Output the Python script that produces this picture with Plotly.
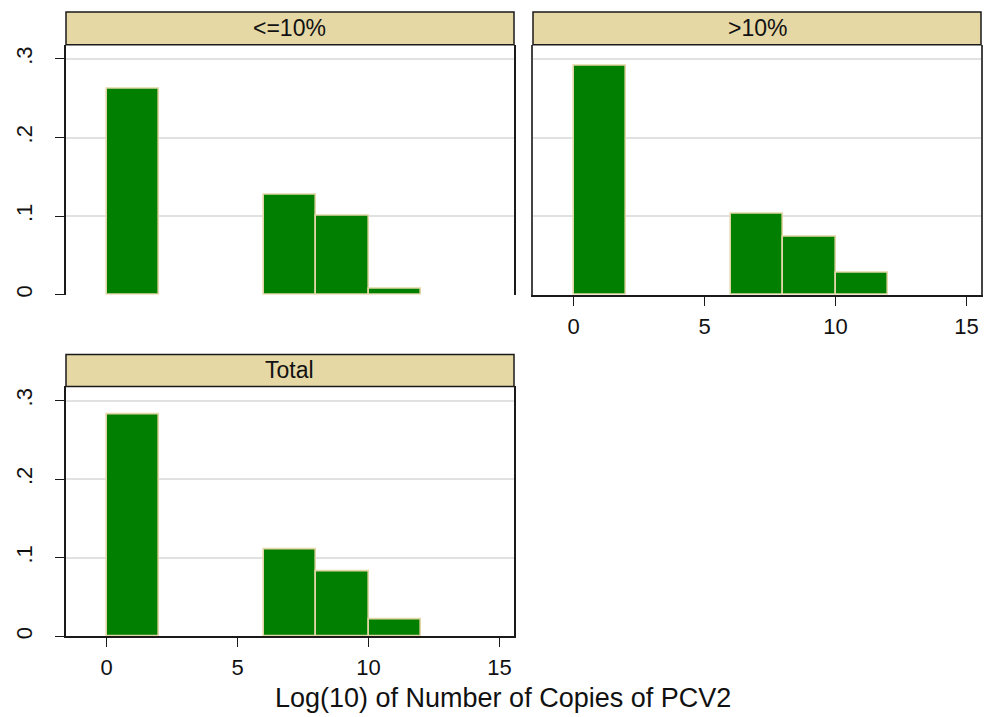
import plotly.graph_objects as go

# Histogram bins (log10 copies of PCV2), width 2
bin_left = [0, 6, 8, 10]
bin_width = 2

# Density per bin for each group
density_le10 = [0.262, 0.127, 0.101, 0.008]
density_gt10 = [0.291, 0.103, 0.074, 0.028]
density_total = [0.282, 0.111, 0.083, 0.021]

panel_titles = ["<=10%", ">10%", "Total"]
y_ticks = [0, 0.1, 0.2, 0.3]
y_tick_labels = ["0", ".1", ".2", ".3"]
x_ticks = [0, 5, 10, 15]
x_title = "Log(10) of Number of Copies of PCV2"

W, H = 984, 717
FONT = "Liberation Sans, Arial, sans-serif"
BAR_FILL = "#007F00"
BAR_EDGE = "#E2D6A6"
STRIP_FILL = "#E5D8A5"
GRID = "#E1E1E1"
FRAME = "#1a1a1a"

def px_x(v):
    return v / W

def px_y(v):
    return 1 - v / H

# panel geometry in pixels: (left, right, plot_top, plot_bottom, strip_top)
panels = [
    (66, 514, 45, 296, 12),
    (533, 981, 45, 296, 12),
    (66, 514, 388, 639, 356),
]
series = [density_le10, density_gt10, density_total]

fig = go.Figure()
centers = [b + bin_width / 2 for b in bin_left]

for i, (vals, geo) in enumerate(zip(series, panels)):
    n = "" if i == 0 else str(i + 1)
    fig.add_trace(go.Bar(
        x=centers, y=vals, width=[bin_width] * len(vals),
        marker=dict(color=BAR_FILL, line=dict(color=BAR_EDGE, width=1.6)),
        xaxis="x" + n, yaxis="y" + n, showlegend=False,
        hoverinfo="x+y",
    ))

    left, right, top, bottom, stop = geo
    show_x = i in (1, 2)
    show_y = i in (0, 2)

    fig.layout["xaxis" + n] = dict(
        domain=[px_x(left), px_x(right)],
        anchor="y" + n,
        range=[-1.55, 15.55],
        tickvals=x_ticks,
        showticklabels=show_x,
        ticks="outside" if show_x else "",
        ticklen=9, tickwidth=1.2, tickcolor=FRAME,
        ticklabelstandoff=2,
        showline=show_x, linecolor=FRAME, linewidth=1.5,
        showgrid=False, zeroline=False,
        tickfont=dict(family=FONT, size=22, color="#111"),
        fixedrange=True,
    )
    fig.layout["yaxis" + n] = dict(
        domain=[px_y(bottom), px_y(top)],
        anchor="x" + n,
        range=[0, 0.318],
        tickvals=y_ticks,
        ticktext=y_tick_labels,
        tickangle=-90,
        showticklabels=show_y,
        ticks="outside" if show_y else "",
        ticklen=9, tickwidth=1.2, tickcolor=FRAME,
        ticklabelstandoff=14,
        showline=True, mirror=True, linecolor=FRAME if show_y else "#444",
        linewidth=1.5,
        showgrid=True, gridcolor=GRID, gridwidth=1.5,
        zeroline=False,
        tickfont=dict(family=FONT, size=22, color="#111"),
        fixedrange=True,
    )

    # panel strip with its label
    fig.add_shape(
        type="rect", xref="paper", yref="paper",
        x0=px_x(left), x1=px_x(right), y0=px_y(top), y1=px_y(stop),
        fillcolor=STRIP_FILL, line=dict(color=FRAME, width=1.5), layer="above",
    )
    fig.add_annotation(
        x=(px_x(left) + px_x(right)) / 2, y=(px_y(top) + px_y(stop)) / 2,
        xref="paper", yref="paper", text=panel_titles[i], showarrow=False,
        xanchor="center", yanchor="middle",
        font=dict(family=FONT, size=23, color="#111"),
    )

# shared x-axis title
fig.add_annotation(
    x=px_x(503), y=px_y(701), xref="paper", yref="paper", text=x_title,
    showarrow=False, xanchor="center", yanchor="middle",
    font=dict(family=FONT, size=27, color="#111"),
)

fig.update_layout(
    width=W, height=H,
    margin=dict(l=0, r=0, t=0, b=0),
    paper_bgcolor="white", plot_bgcolor="white",
    bargap=0,
)

fig.write_html("out.html")
